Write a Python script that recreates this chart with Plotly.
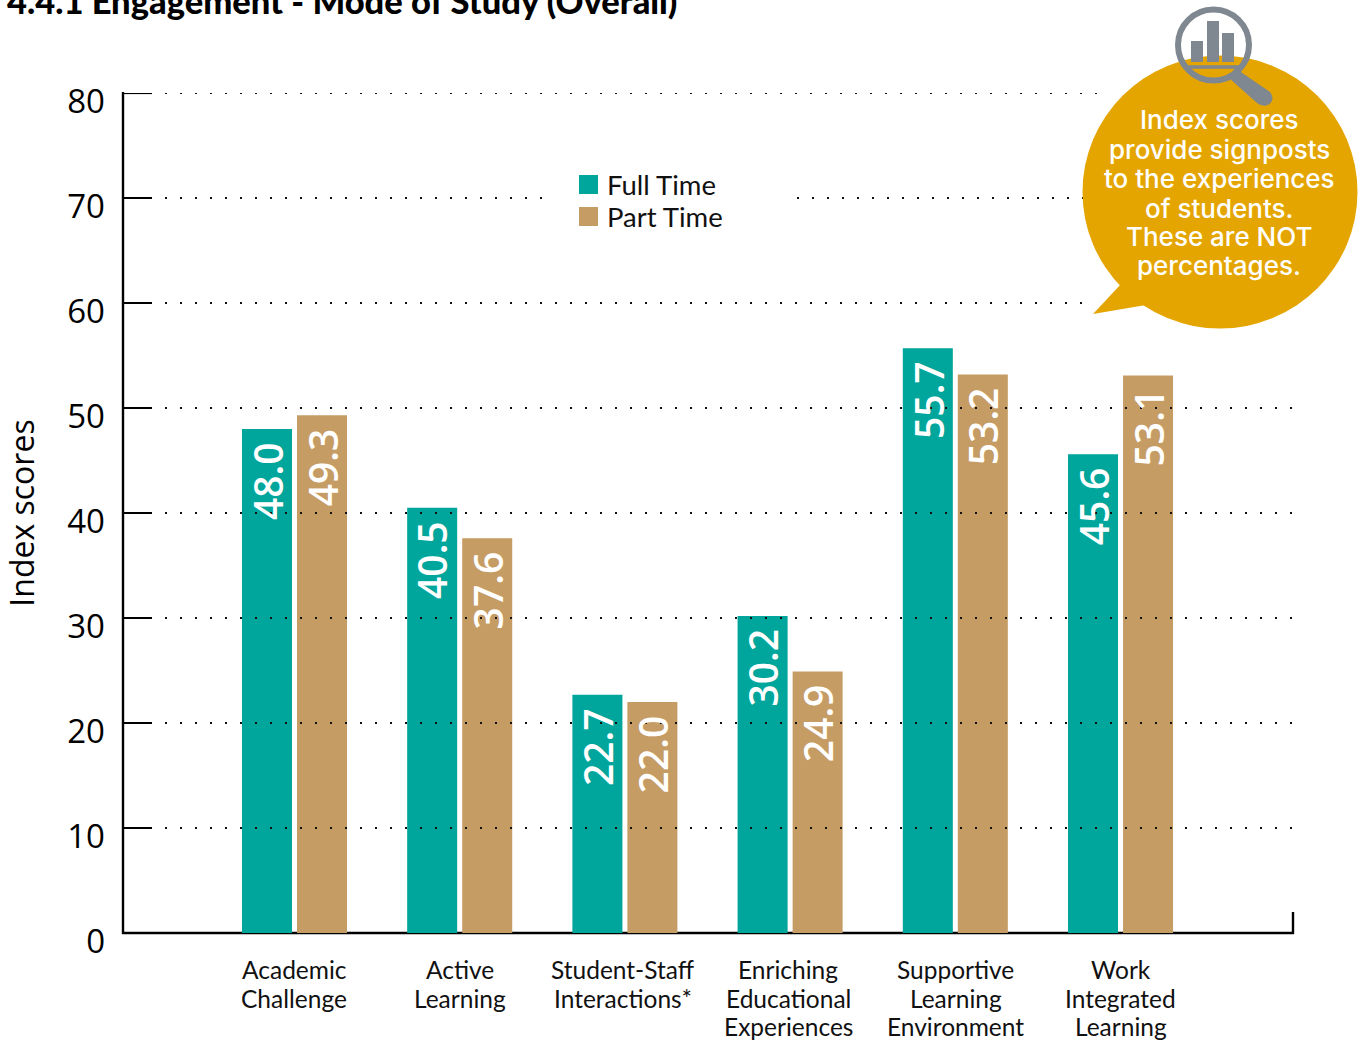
import plotly.graph_objects as go

W, H = 1362, 1046
categories = ["Academic<br>Challenge", "Active<br>Learning", "Student-Staff<br>Interactions*",
              "Enriching<br>Educational<br>Experiences", "Supportive<br>Learning<br>Environment",
              "Work<br>Integrated<br>Learning"]
full_time = [48.0, 40.5, 22.7, 30.2, 55.7, 45.6]
part_time = [49.3, 37.6, 22.0, 24.9, 53.2, 53.1]
series_names = ["Full Time", "Part Time"]
teal, tan = "#00A59B", "#C69C65"
gold, grey = "#E5A500", "#7F8790"
y_ticks = [0, 10, 20, 30, 40, 50, 60, 70, 80]
title_text = "4.4.1 Engagement - Mode of Study (Overall)"
callout_lines = ["Index scores", "provide signposts", "to the experiences", "of students.", "These are NOT", "percentages."]
callout_line_y = [120, 149, 178, 208, 237, 266]
category_line_y = [970, 999, 1027]
category_shift = [0, 0, -2, -2, 0.5, 0]
TICK = "Open Sans"
BODY = "Lato"

px = lambda x: x / W
py = lambda y: 1 - y / H

fig = go.Figure()
for name, vals, col in zip(series_names, [full_time, part_time], [teal, tan]):
    fig.add_bar(x=categories, y=vals, name=name, marker=dict(color=col, line_width=0), showlegend=False)

shapes = []
# axis lines, drawn under the bars
shapes.append(dict(type="line", xref="paper", yref="paper", x0=px(123), x1=px(123), y0=py(934), y1=py(92),
                   line=dict(color="black", width=2.4), layer="below"))
shapes.append(dict(type="line", xref="paper", yref="paper", x0=px(122), x1=px(1294), y0=py(933), y1=py(933),
                   line=dict(color="black", width=2.4), layer="below"))
# stub at the top of the value axis
shapes.append(dict(type="line", xref="paper", yref="y", x0=px(122), x1=px(152), y0=80, y1=80,
                   line=dict(color="black", width=2.2)))
# dotted gridlines (pixel extents per value)
grid_spans = {80: [(165, 1100)], 70: [(165, 545), (797, 1085)], 60: [(165, 1090)],
              50: [(165, 1297)], 40: [(165, 1297)], 30: [(165, 1297)], 20: [(165, 1297)], 10: [(165, 1297)]}
for v, spans in grid_spans.items():
    for a, b in spans:
        shapes.append(dict(type="line", xref="paper", yref="y", x0=px(a), x1=px(b), y0=v, y1=v,
                           line=dict(color="#111", width=2, dash="2px,13px"), layer="above"))
# right end stub
shapes.append(dict(type="line", xref="paper", yref="paper", x0=px(1293), x1=px(1293), y0=py(934), y1=py(912),
                   line=dict(color="black", width=2.4)))
# callout
cx, cy, rx, ry = 1220, 192, 137.5, 136.5
shapes.append(dict(type="circle", xref="paper", yref="paper", x0=px(cx-rx), x1=px(cx+rx), y0=py(cy+ry), y1=py(cy-ry),
                   fillcolor=gold, line_width=0))
shapes.append(dict(type="path", xref="paper", yref="paper",
                   path=f"M{px(1122)},{py(283)} L{px(1093)},{py(314)} L{px(1146)},{py(305)} Z",
                   fillcolor=gold, line_width=0))
# magnifier
shapes.append(dict(type="circle", xref="paper", yref="paper", x0=px(1178), x1=px(1249), y0=py(80.5), y1=py(9.5),
                   line=dict(color=grey, width=6), fillcolor="rgba(0,0,0,0)"))
shapes.append(dict(type="path", xref="paper", yref="paper",
                   path=f"M{px(1235)},{py(68)} L{px(1270)},{py(92)} Q{px(1276)},{py(100)} {px(1268)},{py(105)} "
                        f"Q{px(1262)},{py(107)} {px(1257)},{py(103)} L{px(1229)},{py(78)} Z",
                   fillcolor=grey, line_width=0))
shapes.append(dict(type="line", xref="paper", yref="paper", x0=px(1184), x1=px(1243), y0=py(67), y1=py(67),
                   line=dict(color=grey, width=3.5)))
for x0, x1, top in [(1191, 1203, 41), (1207, 1219, 21), (1222, 1234, 33)]:
    shapes.append(dict(type="rect", xref="paper", yref="paper", x0=px(x0), x1=px(x1), y0=py(62), y1=py(top),
                       fillcolor=grey, line_width=0))
# legend
for (top, col) in [(175, teal), (207, tan)]:
    shapes.append(dict(type="rect", xref="paper", yref="paper", x0=px(579), x1=px(598), y0=py(top+19), y1=py(top),
                       fillcolor=col, line_width=0))

ann = []
for i, c in enumerate(categories):
    for vals, dx in [(full_time, -27.5), (part_time, 27.5)]:
        ann.append(dict(x=c, y=vals[i], xref="x", yref="y", text=f"{vals[i]:.1f}", showarrow=False, textangle=-90,
                        xanchor="center", yanchor="top", xshift=dx, yshift=-11,
                        font=dict(family=TICK, size=39, color="white", weight=600)))
    for line, yy in zip(c.split("<br>"), category_line_y):
        ann.append(dict(x=c, y=py(yy-1), xref="x", yref="paper", text=line, showarrow=False, xshift=category_shift[i],
                        xanchor="center", yanchor="middle", font=dict(family=BODY, size=24.5, color="#111")))
ann.append(dict(x=px(5), y=py(0.5), xref="paper", yref="paper", text=title_text, showarrow=False,
                xanchor="left", yanchor="middle", font=dict(family=BODY, size=34.5, color="black", weight=900)))
for line, yy in zip(callout_lines, callout_line_y):
    ann.append(dict(x=px(1219), y=py(yy), xref="paper", yref="paper", text=line, showarrow=False,
                    xanchor="center", yanchor="middle",
                    font=dict(family="Inter", size=26, color="white", weight=500)))
for name, yy in zip(series_names, [185, 217]):
    ann.append(dict(x=px(605), y=py(yy), xref="paper", yref="paper", text=name, showarrow=False,
                    xanchor="left", yanchor="middle", font=dict(family=BODY, size=27.5, color="#111")))

fig.update_layout(
    width=W, height=H, margin=dict(l=0, r=0, t=0, b=0), showlegend=False,
    plot_bgcolor="rgba(0,0,0,0)", paper_bgcolor="white", barmode="group", bargap=0.334, bargroupgap=0.0909,
    shapes=shapes, annotations=ann,
    xaxis=dict(domain=[px(123), px(1293)], range=[-1.038, 6.044], type="category", showgrid=False,
               showline=False, ticks="", showticklabels=False, automargin=False),
    yaxis=dict(domain=[py(933), py(93)], range=[0, 80], tickvals=y_ticks, showgrid=False, zeroline=False,
               showline=False, ticks="inside", ticklen=29, tickwidth=2.2,
               tickcolor="black", tickfont=dict(family=TICK, size=33, color="black"), automargin=False,
               ticklabelstandoff=17, ticklabelshift=8,
               title=dict(text="Index scores", font=dict(family=TICK, size=32, color="black"), standoff=26)),
)
fig.write_html("out.html", post_script="document.body.style.margin='0';", config={"displayModeBar": False})
